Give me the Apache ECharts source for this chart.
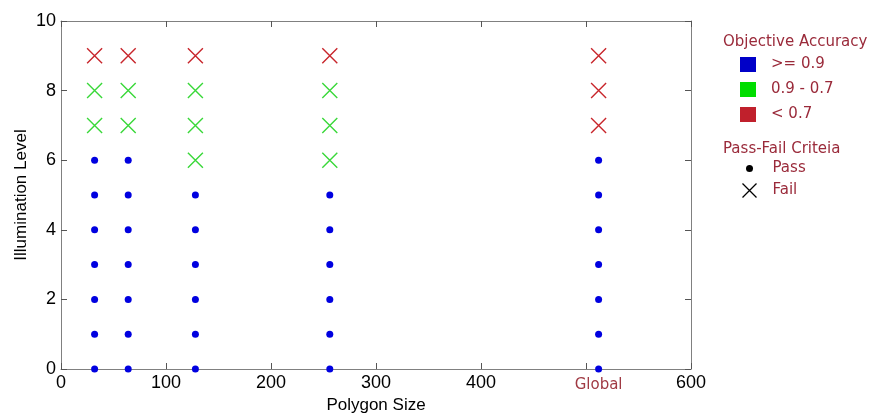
<!DOCTYPE html>
<html>
<head>
<meta charset="utf-8">
<script src="https://cdn.jsdelivr.net/npm/echarts@6/dist/echarts.min.js"></script>
<style>
  html, body { margin: 0; padding: 0; background: #fff; }
  #chart { width: 880px; height: 417px; }
</style>
</head>
<body>
<div id="chart"></div>
<script>
// polygon sizes (Global drawn at 512)
const xTickLabels = [0, 100, 200, 300, 400, 600]
const globalX = 512
const yTicks = [0, 2, 4, 6, 8, 10]

// [polygon size, illumination level]
const highAccPass = [
  [32, 0], [32, 1], [32, 2], [32, 3], [32, 4], [32, 5], [32, 6],
  [64, 0], [64, 1], [64, 2], [64, 3], [64, 4], [64, 5], [64, 6],
  [128, 0], [128, 1], [128, 2], [128, 3], [128, 4], [128, 5],
  [256, 0], [256, 1], [256, 2], [256, 3], [256, 4], [256, 5],
  [512, 0], [512, 1], [512, 2], [512, 3], [512, 4], [512, 5], [512, 6]
]
const midAccFail = [
  [32, 7], [32, 8],
  [64, 7], [64, 8],
  [128, 6], [128, 7], [128, 8],
  [256, 6], [256, 7], [256, 8]
]
const lowAccFail = [
  [32, 9], [64, 9], [128, 9], [256, 9],
  [512, 7], [512, 8], [512, 9]
]

const blue = '#0000e0'
const green = '#3ad83a'
const red = '#c8262c'
const legendText = '#9a2a3a'
const crossPath = 'path://M0 0 L10 10 M10 0 L0 10'
const dotPath = 'path://M-4 0 A4 4 0 1 0 4 0 A4 4 0 1 0 -4 0 Z M-8 -8 L-8 -8 M8 8 L8 8'

const chart = echarts.init(document.getElementById('chart'))

const frameAxis = {
  min: 0,
  axisLine: { show: true, onZero: false, lineStyle: { color: '#808080', width: 1 } },
  axisTick: { show: true, inside: true, length: 6, lineStyle: { color: '#555' } },
  splitLine: { show: false }
}

const option = {
  animation: false,
  textStyle: { fontFamily: 'Liberation Sans' },
  title: [
    {
      text: 'Objective Accuracy', left: 718, top: 30,
      textStyle: { color: legendText, fontSize: 15, fontWeight: 'normal', fontFamily: 'DejaVu Sans' }
    },
    {
      text: 'Pass-Fail Criteia', left: 718, top: 137,
      textStyle: { color: legendText, fontSize: 15, fontWeight: 'normal', fontFamily: 'DejaVu Sans' }
    }
  ],
  legend: [
    {
      orient: 'vertical', left: 735, top: 52,
      icon: 'rect', itemWidth: 16, itemHeight: 15, itemGap: 10,
      selectedMode: false,
      textStyle: { color: legendText, fontSize: 15, fontFamily: 'DejaVu Sans', padding: [0, 0, 0, 10] },
      data: [
        { name: '>= 0.9', itemStyle: { color: '#0000c8', opacity: 1, borderWidth: 0 } },
        { name: '0.9 - 0.7', itemStyle: { color: '#00dd00', opacity: 1, borderWidth: 0 } },
        { name: '< 0.7', itemStyle: { color: '#c0202c', opacity: 1, borderWidth: 0 } }
      ]
    },
    {
      orient: 'vertical', left: 735, top: 156,
      itemWidth: 16, itemHeight: 14, itemGap: 5,
      selectedMode: false,
      textStyle: { color: legendText, fontSize: 15, fontFamily: 'DejaVu Sans', padding: [0, 0, 0, 10] },
      data: [
        { name: 'Pass', icon: dotPath, itemStyle: { color: '#000', opacity: 1, borderWidth: 0 } },
        { name: 'Fail', icon: crossPath, itemStyle: { color: 'none', borderColor: '#000', borderWidth: 1.3, opacity: 1 } }
      ]
    }
  ],
  grid: { left: 61, right: 189, top: 21, bottom: 48, containLabel: false, outerBoundsMode: 'none' },
  xAxis: [
    {
      ...frameAxis,
      type: 'value', max: 600, position: 'bottom',
      name: 'Polygon Size', nameLocation: 'middle', nameGap: 28, nameMoveOverlap: false,
      nameTextStyle: { color: '#000', fontSize: 17 },
      axisTick: { ...frameAxis.axisTick, customValues: [0, 100, 200, 300, 400, 500, 600] },
      axisLabel: {
        customValues: [...xTickLabels, globalX],
        color: '#000', fontSize: 18, margin: 5,
        formatter: v => v === globalX ? '{g|Global}' : String(v),
        rich: { g: { color: '#a03a44', fontSize: 15, fontFamily: 'DejaVu Sans', padding: [4, 0, 0, 0] } }
      }
    },
    {
      ...frameAxis,
      type: 'value', max: 600, position: 'top',
      axisTick: { ...frameAxis.axisTick, customValues: [0, 100, 200, 300, 400, 500, 600] },
      axisLabel: { show: false }
    }
  ],
  yAxis: [
    {
      ...frameAxis,
      type: 'value', max: 10, interval: 2, position: 'left',
      name: 'Illumination Level', nameLocation: 'middle', nameGap: 31, nameMoveOverlap: false,
      nameTextStyle: { color: '#000', fontSize: 17 },
      axisLabel: { color: '#000', fontSize: 18, margin: 5 }
    },
    {
      ...frameAxis,
      type: 'value', max: 10, interval: 2, position: 'right',
      axisLabel: { show: false }
    }
  ],
  series: [
    {
      name: '>= 0.9', type: 'scatter', data: highAccPass,
      symbol: 'circle', symbolSize: 7,
      itemStyle: { color: blue, opacity: 1 }
    },
    {
      name: '0.9 - 0.7', type: 'scatter', data: midAccFail,
      symbol: crossPath, symbolSize: 15,
      itemStyle: { color: 'none', borderColor: green, borderWidth: 1.4, opacity: 1 }
    },
    {
      name: '< 0.7', type: 'scatter', data: lowAccFail,
      symbol: crossPath, symbolSize: 15,
      itemStyle: { color: 'none', borderColor: red, borderWidth: 1.4, opacity: 1 }
    },
    { name: 'Pass', type: 'scatter', data: [], itemStyle: { color: '#000' } },
    { name: 'Fail', type: 'scatter', data: [], itemStyle: { color: '#000' } }
  ]
}

chart.setOption(option)
</script>
</body>
</html>
